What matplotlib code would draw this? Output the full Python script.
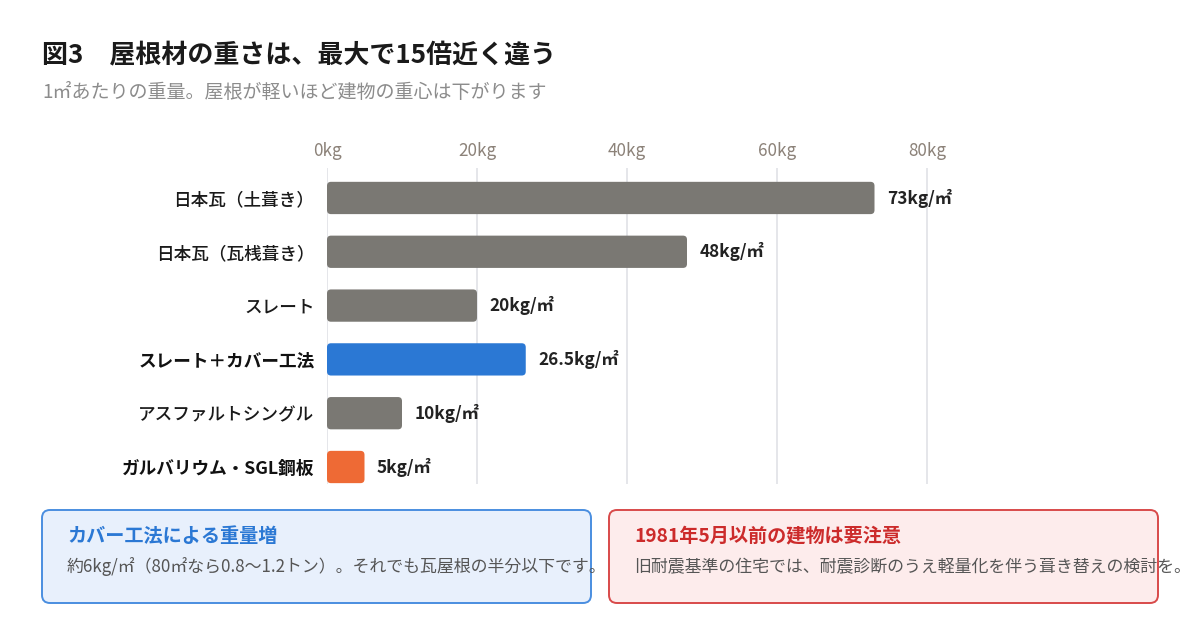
import matplotlib
matplotlib.use("Agg")
import matplotlib.pyplot as plt
from matplotlib.patches import FancyBboxPatch

plt.rcParams['font.family'] = ['Noto Sans CJK JP', 'DejaVu Sans']

categories = ["日本瓦（土葺き）", "日本瓦（瓦桟葺き）", "スレート", "スレート＋カバー工法", "アスファルトシングル", "ガルバリウム・SGL鋼板"]
values = [73, 48, 20, 26.5, 10, 5]
value_labels = ["73kg/㎡", "48kg/㎡", "20kg/㎡", "26.5kg/㎡", "10kg/㎡", "5kg/㎡"]
highlight = [False, False, False, True, False, True]
bar_colors = ["#7a7873", "#7a7873", "#7a7873", "#2b78d4", "#7a7873", "#ee6a35"]
xticks = [0, 20, 40, 60, 80]
xtick_labels = ["0kg", "20kg", "40kg", "60kg", "80kg"]

title = "図3　屋根材の重さは、最大で15倍近く違う"
subtitle = "1㎡あたりの重量。屋根が軽いほど建物の重心は下がります"
note1_title = "カバー工法による重量増"
note1_body = "約6kg/㎡（80㎡なら0.8〜1.2トン）。それでも瓦屋根の半分以下です。"
note2_title = "1981年5月以前の建物は要注意"
note2_body = "旧耐震基準の住宅では、耐震診断のうえ軽量化を伴う葺き替えの検討を。"

W, H = 1200, 630
fig = plt.figure(figsize=(W / 100, H / 100), dpi=100)
fig.patch.set_facecolor("white")

# chart axes (pixel geometry)
ax_left, ax_top, ax_bottom = 327, 168, 484
xmax = 85
px_per_kg = 7.5
ax_w = xmax * px_per_kg
ax = fig.add_axes([ax_left / W, (H - ax_bottom) / H, ax_w / W, (ax_bottom - ax_top) / H])
ax.set_xlim(0, xmax)
ax.set_ylim(5.316, -0.557)
for s in ax.spines.values():
    s.set_visible(False)
ax.set_facecolor("none")

ax.xaxis.tick_top()
ax.set_xticks(xticks)
ax.set_xticklabels(xtick_labels, color="#8c8279", fontsize=12.3)
ax.tick_params(axis="x", length=0, pad=6)
ax.grid(axis="x", color="#e5e6ea", linewidth=1.4)
ax.set_axisbelow(True)

ypos = list(range(len(categories)))
ax.set_yticks(ypos)
ax.set_yticklabels(categories, fontsize=12.7)
for lbl, hl in zip(ax.get_yticklabels(), highlight):
    lbl.set_fontweight("bold" if hl else "medium")
    lbl.set_color("#111111" if hl else "#1a1a1a")
ax.tick_params(axis="y", length=0, pad=9)

bars = ax.barh(ypos, values, height=0.6, color=bar_colors)
px_per_y = (ax_bottom - ax_top) / (5.316 + 0.557)
aspect = (1 / px_per_y) / (1 / px_per_kg)
r_px = 4
for b, c in zip(bars, bar_colors):
    b.set_visible(False)
    x0, y0 = b.get_x(), b.get_y()
    w, h = b.get_width(), b.get_height()
    p = FancyBboxPatch((x0, y0), w, h,
                       boxstyle=f"round,pad=0,rounding_size={r_px / px_per_kg}",
                       mutation_aspect=aspect, facecolor=c, edgecolor="none", zorder=3)
    ax.add_patch(p)

for y, v, t in zip(ypos, values, value_labels):
    ax.annotate(t, xy=(v, y), xytext=(9.0, 0), textcoords="offset points",
                ha="left", va="center", fontsize=12.4, fontweight="bold", color="#222222")

# overlay axes in pixel coordinates
ov = fig.add_axes([0, 0, 1, 1])
ov.set_xlim(0, W)
ov.set_ylim(H, 0)
ov.axis("off")
ov.set_zorder(-1)

ov.text(42, 56, title, fontsize=18.7, fontweight="bold", color="#1a1a1a", ha="left", va="center")
ov.text(42, 92, subtitle, fontsize=13.7, color="#8c8c8c", ha="left", va="center")

boxes = [
    (42, 591, "#e8f0fc", "#4a8ee0", note1_title, "#2b78d4", note1_body),
    (609, 1158, "#fdecec", "#d84a4a", note2_title, "#cc2b2b", note2_body),
]
for x0, x1, fc, ec, t, tc, body in boxes:
    p = FancyBboxPatch((x0, 510), x1 - x0, 93, boxstyle="round,pad=0,rounding_size=8",
                       facecolor=fc, edgecolor=ec, linewidth=1.4)
    ov.add_patch(p)
    ov.text(x0 + 25, 536, t, fontsize=13.8, fontweight="bold", color=tc, ha="left", va="center")
    ov.text(x0 + 25, 567, body, fontsize=12.2, color="#555555", ha="left", va="center")

fig.savefig("out.png", dpi=100, facecolor="white")
